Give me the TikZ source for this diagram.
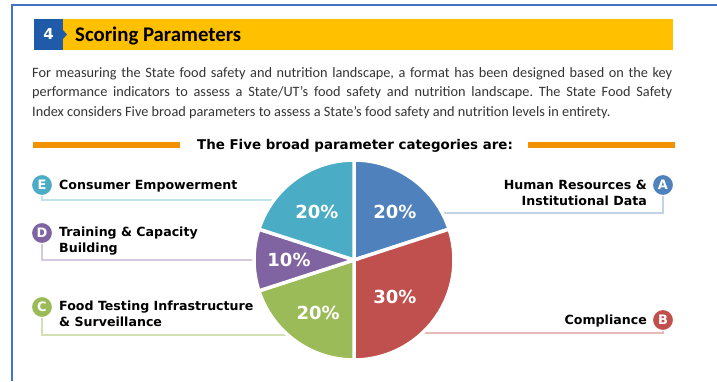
\documentclass[tikz,border=0pt]{standalone}
\usepackage{fontspec}
\setmainfont{Carlito}
\newfontfamily\labelfont{DejaVu Sans}
\usetikzlibrary{positioning}
\frenchspacing

\definecolor{frameblue}{HTML}{4472C4}
\definecolor{headblue}{HTML}{1F5BA8}
\definecolor{headyellow}{HTML}{FFC000}
\definecolor{barorange}{HTML}{F39200}
\definecolor{pieblue}{HTML}{4F81BD}
\definecolor{piered}{HTML}{C0504D}
\definecolor{piegreen}{HTML}{9BBB59}
\definecolor{piepurple}{HTML}{8064A2}
\definecolor{pieteal}{HTML}{4BACC6}

\tikzset{
  letter/.style={circle, fill=#1, draw=white, line width=1pt, minimum size=21pt,
    inner sep=0pt, text=white, font=\labelfont\bfseries\fontsize{13}{13}\selectfont},
  catlabel/.style={font=\labelfont\bfseries\fontsize{12.6}{16}\selectfont, inner sep=0pt},
  leader/.style={draw=#1, line width=1.5pt},
  share/.style={text=white, font=\labelfont\bfseries\fontsize{18}{18}\selectfont},
  slice/.style={fill=#1, draw=white, line width=3.5pt, line join=miter},
  bodyline/.style={anchor=base west, inner sep=0pt, font=\fontsize{14.3}{19.5}\selectfont, text=black!80}
}

\begin{document}
\begin{tikzpicture}[x=1pt, y=-1pt]
\useasboundingbox (0,0) rectangle (717,381);
\draw[frameblue, line width=2pt] (12,381) -- (12,5) -- (717,5);

% header
\fill[headyellow] (63,19) rectangle (673,50);
\fill[headblue] (34,19) rectangle (63,50);
\fill[headblue] (63,30) -- (67,34.5) -- (63,39) -- cycle;
\node[text=white, font=\labelfont\bfseries\fontsize{15}{15}\selectfont] (num) at (48.5,34.5) {4};
\node[anchor=base west, inner sep=0pt, font=\bfseries\fontsize{20.8}{20.8}\selectfont] (head) at (75,41.5) {Scoring Parameters};

\node[bodyline] (para1) at (32,77) {\makebox[640pt][s]{For measuring the State food safety and nutrition landscape, a format has been designed based on the key}};
\node[bodyline] (para2) at (32,96.5) {\makebox[640pt][s]{performance indicators to assess a State/UT's food safety and nutrition landscape. The State Food Safety}};
\node[bodyline] (para3) at (32,116) {Index considers Five broad parameters to assess a State's food safety and nutrition levels in entirety.};

\node[anchor=base, inner sep=0pt, font=\labelfont\bfseries\fontsize{13.4}{13.4}\selectfont] (title) at (355,149.5) {The Five broad parameter categories are:};
\draw[barorange, line width=6pt] (33,145) -- (180,145);
\draw[barorange, line width=6pt] (528,145) -- (675,145);

% letters and leaders, under the pie
\node[letter=pieblue] (A) at (663,185) {A};
\node[letter=piered] (B) at (663,320) {B};
\node[letter=piegreen] (C) at (42,307) {C};
\node[letter=piepurple] (D) at (42,233) {D};
\node[letter=pieteal] (E) at (42,185) {E};
\coordinate (endA) at (400,213);
\coordinate (endB) at (400,333);
\coordinate (endC) at (310,335);
\coordinate (endD) at (300,260);
\coordinate (endE) at (300,200);
\draw[leader=pieblue!35] (A) |- (endA);
\draw[leader=piered!40] (B) |- (endB);
\draw[leader=piegreen!45] (C) |- (endC);
\draw[leader=piepurple!35] (D) |- (endD);
\draw[leader=pieteal!35] (E) |- (endE);

% pie
\begin{scope}[shift={(354,260)}, y=1pt]
\draw[slice=pieblue] (0,0) -- (90:100) arc (90:18:100) -- cycle;
\draw[slice=piered] (0,0) -- (18:100) arc (18:-90:100) -- cycle;
\draw[slice=piegreen] (0,0) -- (-90:100) arc (-90:-162:100) -- cycle;
\draw[slice=piepurple] (0,0) -- (198:100) arc (198:162:100) -- cycle;
\draw[slice=pieteal] (0,0) -- (162:100) arc (162:90:100) -- cycle;
\node[share] (shareA) at (49.5:63) {20\%};
\node[share] (shareB) at (-42:55) {30\%};
\node[share] (shareC) at (236:64) {20\%};
\node[share] (shareD) at (180:65) {10\%};
\node[share] (shareE) at (127.5:61) {20\%};
\end{scope}

% labels
\node[catlabel, anchor=base east, align=right] (labA) at (647,205.5) {Human Resources \&\\Institutional Data};
\node[catlabel, anchor=base east] (labB) at (647,324.5) {Compliance};
\node[catlabel, anchor=base west, align=left] (labC) at (59,326.5) {Food Testing Infrastructure\\\& Surveillance};
\node[catlabel, anchor=base west, align=left] (labD) at (59,252.5) {Training \& Capacity\\Building};
\node[catlabel, anchor=base west] (labE) at (59,189.5) {Consumer Empowerment};
\end{tikzpicture}
\end{document}
